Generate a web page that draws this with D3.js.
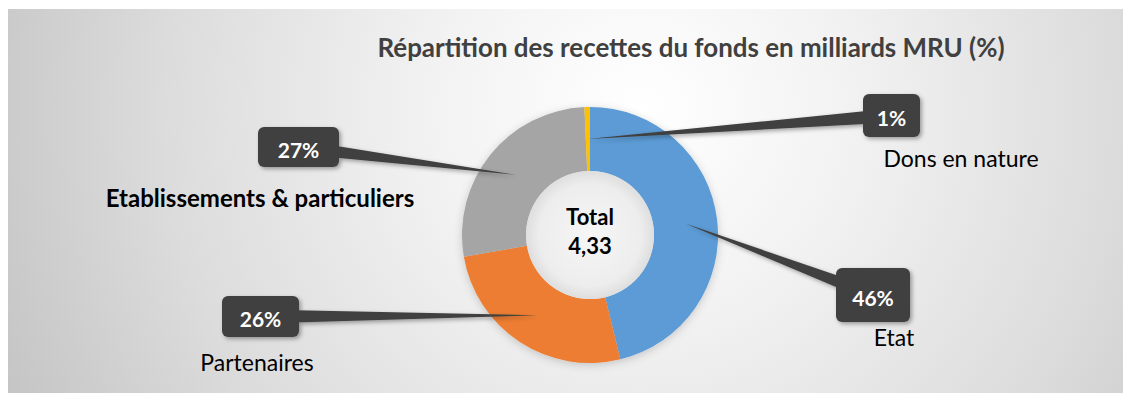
<!DOCTYPE html>
<html>
<head>
<meta charset="utf-8">
<script src="https://cdn.jsdelivr.net/npm/d3@7"></script>
<style>
  body { margin: 0; background: #fff; }
  svg text { font-family: Lato, "Open Sans", sans-serif; }
</style>
</head>
<body>
<div id="chart"></div>
<script>
// data (milliards MRU)
var categories = ["Etat", "Partenaires", "Etablissements & particuliers", "Dons en nature"];
var values = [2.00, 1.13, 1.17, 0.03];
var colors = ["#5B9BD5", "#ED7D31", "#A5A5A5", "#FFC000"];
var title = "Répartition des recettes du fonds en milliards MRU (%)";

// callout boxes placed by hand, like in the excel sheet
var boxes = [
  {x: 836, y: 268, w: 74, h: 54},
  {x: 222, y: 296, w: 77, h: 41},
  {x: 258, y: 127, w: 81, h: 40},
  {x: 863, y: 94, w: 57, h: 43}
];
var names = [
  {x: 894, y: 346, bold: false},
  {x: 257, y: 371, bold: false},
  {x: 260, y: 207, bold: true},
  {x: 961, y: 167, bold: false}
];

var width = 1132,
    height = 403;
var cx = 590, cy = 235;
var outerR = 128, innerR = 64;

var svg = d3.select("#chart")
  .append("svg")
    .attr("width", width)
    .attr("height", height);

var defs = svg.append("defs");

var bg = defs.append("radialGradient")
  .attr("id", "bg")
  .attr("gradientUnits", "userSpaceOnUse")
  .attr("cx", 640).attr("cy", 110).attr("r", 700);
bg.append("stop").attr("offset", 0).attr("stop-color", "#ffffff");
bg.append("stop").attr("offset", 0.3).attr("stop-color", "#f2f2f2");
bg.append("stop").attr("offset", 0.68).attr("stop-color", "#dcdcdc");
bg.append("stop").attr("offset", 1).attr("stop-color", "#c4c4c4");

var hole = defs.append("radialGradient").attr("id", "hole");
hole.append("stop").attr("offset", 0).attr("stop-color", "#f6f6f6");
hole.append("stop").attr("offset", 0.8).attr("stop-color", "#ededed");
hole.append("stop").attr("offset", 1).attr("stop-color", "#dedede");

var shadow = defs.append("filter").attr("id", "shadow")
  .attr("x", "-20%").attr("y", "-20%").attr("width", "140%").attr("height", "140%");
shadow.append("feDropShadow")
  .attr("dx", 2).attr("dy", 2).attr("stdDeviation", 2)
  .attr("flood-color", "#000").attr("flood-opacity", 0.35);

var softShadow = defs.append("filter").attr("id", "soft")
  .attr("x", "-20%").attr("y", "-20%").attr("width", "140%").attr("height", "140%");
softShadow.append("feDropShadow")
  .attr("dx", 0).attr("dy", 2).attr("stdDeviation", 4)
  .attr("flood-color", "#000").attr("flood-opacity", 0.18);

// chart area
svg.append("rect")
  .attr("x", 8).attr("y", 9)
  .attr("width", 1115).attr("height", 384)
  .attr("fill", "url(#bg)");

// title
svg.append("text")
  .attr("x", 691).attr("y", 57)
  .attr("text-anchor", "middle")
  .attr("font-size", 27)
  .attr("font-weight", 700)
  .attr("fill", "#404040")
  .attr("textLength", 627)
  .attr("lengthAdjust", "spacingAndGlyphs")
  .text(title);

var total = d3.sum(values);

var pie = d3.pie()
  .sort(null)
  .value(function(d) { return d; });
var slices = pie(values);

var arc = d3.arc()
  .innerRadius(innerR)
  .outerRadius(outerR);

var g = svg.append("g")
  .attr("transform", "translate(" + cx + "," + cy + ")");

g.append("g")
  .attr("filter", "url(#soft)")
  .selectAll("path")
  .data(slices)
  .enter()
  .append("path")
    .attr("d", arc)
    .attr("fill", function(d, i) { return colors[i]; });

g.append("circle")
  .attr("r", innerR)
  .attr("fill", "url(#hole)");

g.append("text")
  .attr("y", -10)
  .attr("text-anchor", "middle")
  .attr("font-size", 22)
  .attr("font-weight", 700)
  .attr("fill", "#000")
  .text("Total");
g.append("text")
  .attr("y", 19)
  .attr("text-anchor", "middle")
  .attr("font-size", 22)
  .attr("font-weight", 700)
  .attr("fill", "#000")
  .text(total.toFixed(2).replace(".", ","));

// callouts: tail from slice centroid to the box, then box, then value
var callouts = svg.append("g");
slices.forEach(function(d, i) {
  var c = arc.centroid(d);
  var tip = [cx + c[0], cy + c[1]];
  var b = boxes[i];
  var bx = b.x + b.w / 2, by = b.y + b.h / 2;
  var dx = bx - tip[0], dy = by - tip[1];
  var len = Math.sqrt(dx * dx + dy * dy);
  var nx = -dy / len * 7, ny = dx / len * 7;

  var grp = callouts.append("g").attr("filter", "url(#shadow)");
  grp.append("path")
    .attr("d", "M" + tip + "L" + [bx + nx, by + ny] + "L" + [bx - nx, by - ny] + "Z")
    .attr("fill", "#404040");
  grp.append("rect")
    .attr("x", b.x).attr("y", b.y)
    .attr("width", b.w).attr("height", b.h)
    .attr("rx", 6)
    .attr("fill", "#404040");

  callouts.append("text")
    .attr("x", bx).attr("y", by + 2)
    .attr("text-anchor", "middle")
    .attr("dominant-baseline", "central")
    .attr("font-size", 21)
    .attr("font-weight", 700)
    .attr("fill", "#fff")
    .text(Math.round(d.value / total * 100) + "%");

  callouts.append("text")
    .attr("x", names[i].x).attr("y", names[i].y)
    .attr("text-anchor", "middle")
    .attr("font-size", names[i].bold ? 24 : 23)
    .attr("font-weight", names[i].bold ? 700 : 400)
    .attr("fill", "#000")
    .text(categories[i]);
});
</script>
</body>
</html>
